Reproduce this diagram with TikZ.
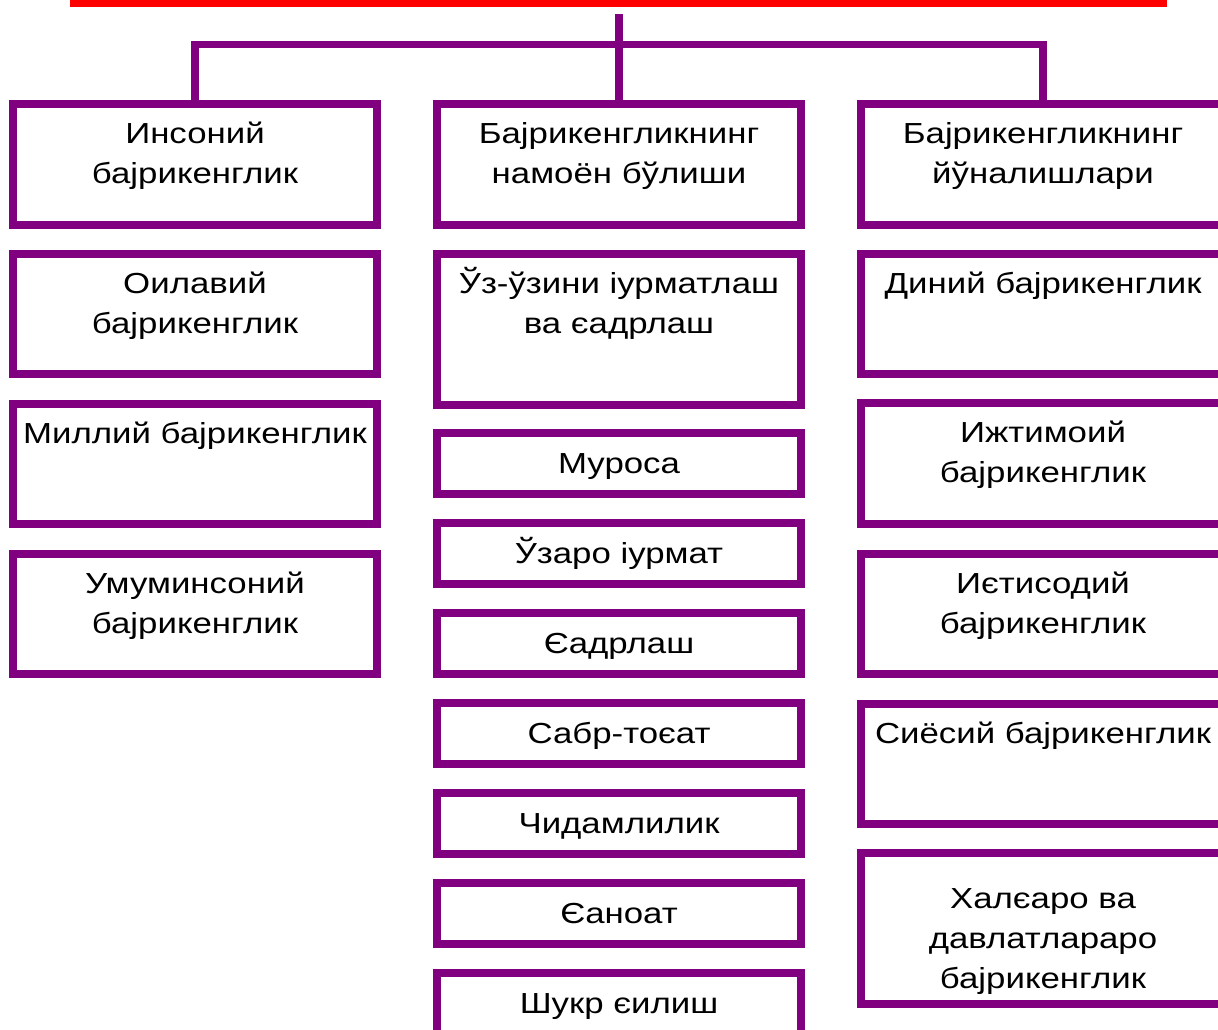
\documentclass[tikz,border=0pt]{standalone}
\usepackage{fontspec}
\setmainfont{Liberation Sans}[FakeStretch=1.2]
\usetikzlibrary{calc}
\definecolor{boxpurple}{RGB}{128,0,128}
\definecolor{barred}{RGB}{255,0,0}
\tikzset{
  boxshape/.style={draw=boxpurple, line width=8pt, rectangle, inner sep=0pt, outer sep=0pt, minimum width=364pt},
  boxtext/.style={anchor=base, align=center, inner sep=0pt, font=\fontsize{29pt}{40pt}\selectfont},
  conn/.style={draw=boxpurple, line width=7.5pt},
}
\begin{document}
\begin{tikzpicture}[x=1pt,y=-1pt]
\useasboundingbox (0,0) rectangle (1218,1029);
\clip (0,0) rectangle (1218,1029);
\fill[barred] (70,-5) rectangle (1167,7);
% left column
\node[boxshape, minimum height=121pt] (L1) at (195,164.5) {};
\node[boxshape, minimum height=120pt] (L2) at (195,314) {};
\node[boxshape, minimum height=120pt] (L3) at (195,464) {};
\node[boxshape, minimum height=120pt] (L4) at (195,614) {};
% middle column
\node[boxshape, minimum height=121pt] (M1) at (619,164.5) {};
\node[boxshape, minimum height=151pt] (M2) at (619,329.5) {};
\node[boxshape, minimum height=61pt] (M3) at (619,463.5) {};
\node[boxshape, minimum height=61pt] (M4) at (619,553.5) {};
\node[boxshape, minimum height=61pt] (M5) at (619,643.5) {};
\node[boxshape, minimum height=61pt] (M6) at (619,733.5) {};
\node[boxshape, minimum height=61pt] (M7) at (619,823.5) {};
\node[boxshape, minimum height=61pt] (M8) at (619,913.5) {};
\node[boxshape, minimum height=61pt] (M9) at (619,1003.5) {};
% right column
\node[boxshape, minimum height=121pt] (R1) at (1043,164.5) {};
\node[boxshape, minimum height=120pt] (R2) at (1043,314) {};
\node[boxshape, minimum height=121pt] (R3) at (1043,463.5) {};
\node[boxshape, minimum height=120pt] (R4) at (1043,614) {};
\node[boxshape, minimum height=120pt] (R5) at (1043,764) {};
\node[boxshape, minimum height=151pt] (R6) at (1043,928.5) {};
% texts (base anchor = baseline of last line)
\node[boxtext] (tL1) at ($(L1.north)+(0,79)$) {Инсоний\\бајрикенглик};
\node[boxtext] (tL2) at ($(L2.north)+(0,79)$) {Оилавий\\бајрикенглик};
\node[boxtext] (tL3) at ($(L3.north)+(0,39)$) {Миллий бајрикенглик};
\node[boxtext] (tL4) at ($(L4.north)+(0,79)$) {Умуминсоний\\бајрикенглик};
\node[boxtext] (tM1) at ($(M1.north)+(0,79)$) {Бајрикенгликнинг\\намоён бўлиши};
\node[boxtext] (tM2) at ($(M2.north)+(0,79)$) {Ўз-ўзини іурматлаш\\ва єадрлаш};
\node[boxtext] (tM3) at ($(M3.north)+(0,40)$) {Муроса};
\node[boxtext] (tM4) at ($(M4.north)+(0,40)$) {Ўзаро іурмат};
\node[boxtext] (tM5) at ($(M5.north)+(0,40)$) {Єадрлаш};
\node[boxtext] (tM6) at ($(M6.north)+(0,40)$) {Сабр-тоєат};
\node[boxtext] (tM7) at ($(M7.north)+(0,40)$) {Чидамлилик};
\node[boxtext] (tM8) at ($(M8.north)+(0,40)$) {Єаноат};
\node[boxtext] (tM9) at ($(M9.north)+(0,40)$) {Шукр єилиш};
\node[boxtext] (tR1) at ($(R1.north)+(0,79)$) {Бајрикенгликнинг\\йўналишлари};
\node[boxtext] (tR2) at ($(R2.north)+(0,39)$) {Диний бајрикенглик};
\node[boxtext] (tR3) at ($(R3.north)+(0,79)$) {Ижтимоий\\бајрикенглик};
\node[boxtext] (tR4) at ($(R4.north)+(0,79)$) {Иєтисодий\\бајрикенглик};
\node[boxtext] (tR5) at ($(R5.north)+(0,39)$) {Сиёсий бајрикенглик};
\node[boxtext] (tR6) at ($(R6.north)+(0,135)$) {Халєаро ва\\давлатлараро\\бајрикенглик};
% connectors
\coordinate (stemtop) at (619,14);
\draw[conn] (stemtop) -- (M1.north);
\draw[conn] (L1.north) -- (L1.north |- 0,44.5) -- (R1.north |- 0,44.5) -- (R1.north);
\end{tikzpicture}
\end{document}
